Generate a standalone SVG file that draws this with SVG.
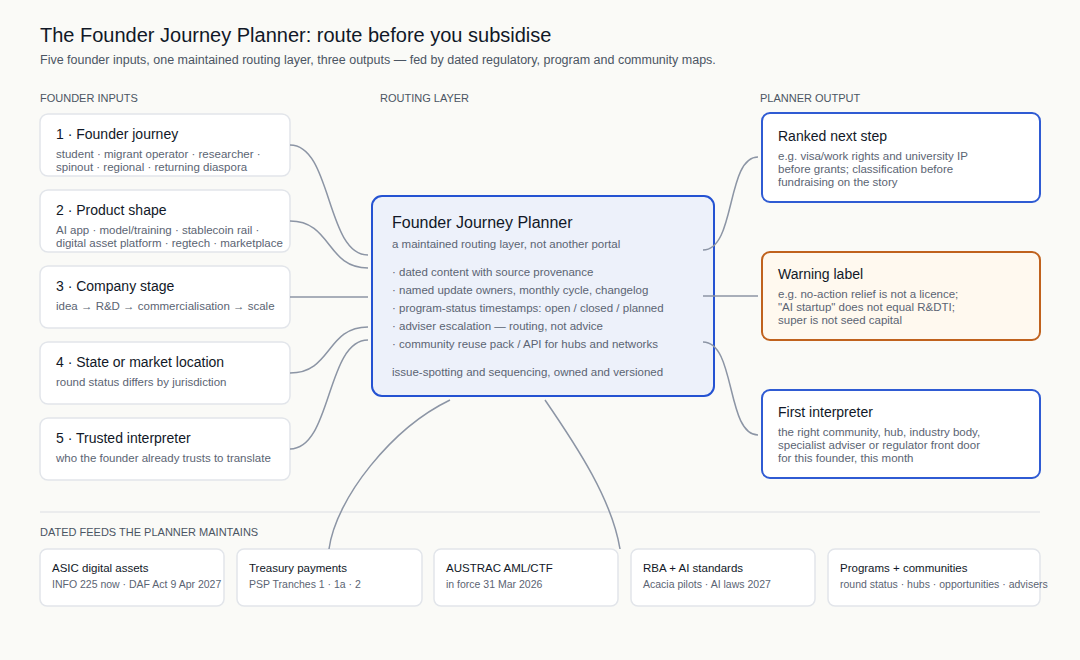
<svg xmlns="http://www.w3.org/2000/svg" width="1080" height="660" viewBox="0 0 1080 660">
<style>
text{font-family:"Liberation Sans",Arial,Helvetica,sans-serif;}
.h1{font-size:20px;fill:#111827;}
.sub{font-size:12.5px;fill:#4b5563;}
.sec{font-size:11px;fill:#4b5563;}
.in{fill:#ffffff;stroke:#e2e5ea;stroke-width:1.5;}
.t14{font-size:14px;fill:#111827;}
.s11{font-size:11.5px;fill:#5b6473;}
.core{fill:#edf1fa;stroke:#2452d2;stroke-width:2;}
.out{fill:#ffffff;stroke:#2f5bd3;stroke-width:2;}
.warn{fill:#fff9ef;stroke:#c0621d;stroke-width:2;}
.feed{fill:#ffffff;stroke:#e2e5ea;stroke-width:1.5;}
.ft{font-size:11.5px;fill:#111827;}
.fs{font-size:10.5px;fill:#5b6473;}
.c{fill:none;stroke:#8c95a5;stroke-width:1.5;}
</style>
<rect width="1080" height="660" fill="#fafaf7"/>
<text class="h1" x="40" y="42">The Founder Journey Planner: route before you subsidise</text>
<text class="sub" x="40" y="64">Five founder inputs, one maintained routing layer, three outputs — fed by dated regulatory, program and community maps.</text>
<text class="sec" x="40" y="102">FOUNDER INPUTS</text>
<text class="sec" x="380" y="102">ROUTING LAYER</text>
<text class="sec" x="760" y="102">PLANNER OUTPUT</text>

<g id="in1"><rect class="in" x="40" y="114" width="250" height="62" rx="8"/>
<text class="t14" x="56" y="139">1 · Founder journey</text>
<text class="s11" x="56" y="158">student · migrant operator · researcher ·</text>
<text class="s11" x="56" y="171">spinout · regional · returning diaspora</text></g>
<g id="in2"><rect class="in" x="40" y="190" width="250" height="62" rx="8"/>
<text class="t14" x="56" y="215">2 · Product shape</text>
<text class="s11" x="56" y="234">AI app · model/training · stablecoin rail ·</text>
<text class="s11" x="56" y="247">digital asset platform · regtech · marketplace</text></g>
<g id="in3"><rect class="in" x="40" y="266" width="250" height="62" rx="8"/>
<text class="t14" x="56" y="291">3 · Company stage</text>
<text class="s11" x="56" y="310">idea → R&amp;D → commercialisation → scale</text></g>
<g id="in4"><rect class="in" x="40" y="342" width="250" height="62" rx="8"/>
<text class="t14" x="56" y="367">4 · State or market location</text>
<text class="s11" x="56" y="386">round status differs by jurisdiction</text></g>
<g id="in5"><rect class="in" x="40" y="418" width="250" height="62" rx="8"/>
<text class="t14" x="56" y="443">5 · Trusted interpreter</text>
<text class="s11" x="56" y="462">who the founder already trusts to translate</text></g>

<g id="planner"><rect class="core" x="372" y="196" width="342" height="200" rx="10"/>
<text x="392" y="228" style="font-size:16px;fill:#111827">Founder Journey Planner</text>
<text class="s11" x="392" y="248">a maintained routing layer, not another portal</text>
<text class="s11" x="392" y="276">· dated content with source provenance</text>
<text class="s11" x="392" y="294">· named update owners, monthly cycle, changelog</text>
<text class="s11" x="392" y="312">· program-status timestamps: open / closed / planned</text>
<text class="s11" x="392" y="330">· adviser escalation — routing, not advice</text>
<text class="s11" x="392" y="348">· community reuse pack / API for hubs and networks</text>
<text class="s11" x="392" y="376">issue-spotting and sequencing, owned and versioned</text></g>

<g id="out1"><rect class="out" x="762" y="113" width="278" height="89" rx="8"/>
<text class="t14" x="778" y="141">Ranked next step</text>
<text class="s11" x="778" y="160">e.g. visa/work rights and university IP</text>
<text class="s11" x="778" y="173">before grants; classification before</text>
<text class="s11" x="778" y="186">fundraising on the story</text></g>
<g id="out2"><rect class="warn" x="762" y="252" width="278" height="88" rx="8"/>
<text class="t14" x="778" y="279">Warning label</text>
<text class="s11" x="778" y="298">e.g. no-action relief is not a licence;</text>
<text class="s11" x="778" y="311">"AI startup" does not equal R&amp;DTI;</text>
<text class="s11" x="778" y="324">super is not seed capital</text></g>
<g id="out3"><rect class="out" x="762" y="390" width="278" height="88" rx="8"/>
<text class="t14" x="778" y="417">First interpreter</text>
<text class="s11" x="778" y="436">the right community, hub, industry body,</text>
<text class="s11" x="778" y="449">specialist adviser or regulator front door</text>
<text class="s11" x="778" y="462">for this founder, this month</text></g>

<line x1="40" y1="512" x2="1040" y2="512" stroke="#e6e7ea" stroke-width="1.5"/>
<text class="sec" x="40" y="536">DATED FEEDS THE PLANNER MAINTAINS</text>

<g id="feed1"><rect class="feed" x="40" y="549" width="184" height="57" rx="7"/>
<text class="ft" x="52" y="572">ASIC digital assets</text>
<text class="fs" x="52" y="588">INFO 225 now · DAF Act 9 Apr 2027</text></g>
<g id="feed2"><rect class="feed" x="237" y="549" width="185" height="57" rx="7"/>
<text class="ft" x="249" y="572">Treasury payments</text>
<text class="fs" x="249" y="588">PSP Tranches 1 · 1a · 2</text></g>
<g id="feed3"><rect class="feed" x="434" y="549" width="184" height="57" rx="7"/>
<text class="ft" x="446" y="572">AUSTRAC AML/CTF</text>
<text class="fs" x="446" y="588">in force 31 Mar 2026</text></g>
<g id="feed4"><rect class="feed" x="631" y="549" width="184" height="57" rx="7"/>
<text class="ft" x="643" y="572">RBA + AI standards</text>
<text class="fs" x="643" y="588">Acacia pilots · AI laws 2027</text></g>
<g id="feed5"><rect class="feed" x="828" y="549" width="212" height="57" rx="7"/>
<text class="ft" x="840" y="572">Programs + communities</text>
<text class="fs" x="840" y="588">round status · hubs · opportunities · advisers</text></g>

<g id="connectors">
<path class="c" d="M290,145 C332,145 326,255 368,255"/>
<path class="c" d="M290,221 C332,221 326,268 368,268"/>
<path class="c" d="M290,297 L368,297"/>
<path class="c" d="M290,373 C332,373 326,327 368,327"/>
<path class="c" d="M290,449 C332,449 326,340 368,340"/>
<path class="c" d="M703,250 C736,250 726,157 758,157"/>
<path class="c" d="M703,296 L758,296"/>
<path class="c" d="M703,342 C736,342 726,435 758,435"/>
<path class="c" d="M450,400 C392,428 336,498 329,549"/>
<path class="c" d="M545,400 C578,448 612,500 620,549"/>
</g>
</svg>
